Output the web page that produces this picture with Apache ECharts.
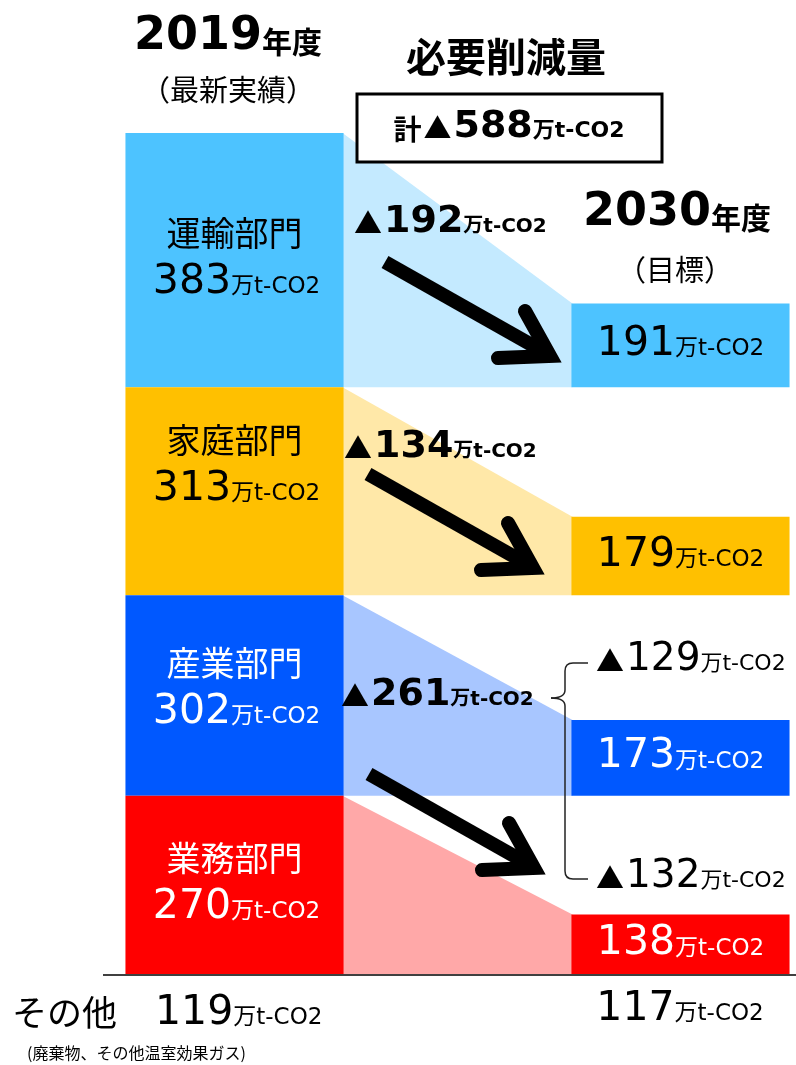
<!DOCTYPE html>
<html>
<head>
<meta charset="utf-8">
<script src="https://cdn.jsdelivr.net/npm/echarts@6/dist/echarts.min.js"></script>
<style>
html, body { margin: 0; padding: 0; background: #fff; }
#main { width: 796px; height: 1065px; }
</style>
</head>
<body>
<div id="main"></div>
<script>
// 部門別排出量（上から順）
var sectors = ['運輸部門', '家庭部門', '産業部門', '業務部門']
var value2019 = [383, 313, 302, 270]
var value2030 = [191, 179, 173, 138]
var cutLabels = [192, 134, 261] // 産業+業務は合算
var cutSub = [129, 132]
var cutTotal = 588
var other2019 = 119
var other2030 = 117
var unit = '万t-CO2'

var colors = ['#4DC3FF', '#FFC000', '#0058FF', '#FF0000']
var lightColors = ['#C4EAFF', '#FFE8A8', '#A8C6FF', '#FFA8A8']
var textColors = ['#000', '#000', '#fff', '#fff']
var labelShift = [0, -24, -5, 0] // 部門名ラベルの上下位置の調整
var SCALE_2030 = 0.66 // 目標側の棒は縮尺を変えて描かれている

var FONT = '"DejaVu Sans", "Noto Sans CJK JP", sans-serif'
var CJK = '"Noto Sans CJK JP", sans-serif'

var total2019 = value2019.reduce(function(a, b) { return a + b }, 0)

function valueRich(color, big, small) {
  return {
    n: { fontFamily: FONT, fontSize: big, fill: color, verticalAlign: 'bottom' },
    u: { fontFamily: FONT, fontSize: small, fill: color, verticalAlign: 'bottom', padding: [0, 0, 4, 0] }
  }
}

function renderSector(params, api) {
  var i = params.dataIndex
  var base = 0
  for (var j = i + 1; j < value2019.length; j++) base += value2019[j]
  var bw = api.size([1, 0])[0] * 0.978
  var p0 = api.coord([0, base])
  var p19 = api.coord([0, base + value2019[i]])
  var p30 = api.coord([2, base + value2030[i] * SCALE_2030])
  var x19l = p0[0] - bw / 2
  var x19r = p0[0] + bw / 2
  var x30l = p30[0] - bw / 2
  var yb = p0[1]
  var mid19 = (p19[1] + yb) / 2 + labelShift[i]
  var mid30 = (p30[1] + yb) / 2
  return {
    type: 'group',
    children: [
      {
        type: 'polygon',
        shape: { points: [[x19r - 1, p19[1]], [x30l + 1, p30[1]], [x30l + 1, yb], [x19r - 1, yb]] },
        style: { fill: lightColors[i] }
      },
      {
        type: 'rect',
        shape: { x: x19l, y: p19[1], width: bw, height: yb - p19[1] },
        style: { fill: colors[i] }
      },
      {
        type: 'rect',
        shape: { x: x30l, y: p30[1], width: bw, height: yb - p30[1] },
        style: { fill: colors[i] }
      },
      {
        type: 'text',
        style: {
          text: sectors[i], x: p0[0], y: mid19 - 27, align: 'center', verticalAlign: 'middle',
          fontFamily: CJK, fontSize: 34, fill: textColors[i]
        }
      },
      {
        type: 'text',
        style: {
          text: '{n|' + value2019[i] + '}{u|' + unit + '}', x: p0[0] + 2, y: mid19 + 22,
          align: 'center', verticalAlign: 'middle', rich: valueRich(textColors[i], 41, 23)
        }
      },
      {
        type: 'text',
        style: {
          text: '{n|' + value2030[i] + '}{u|' + unit + '}', x: p30[0], y: mid30 - 1,
          align: 'center', verticalAlign: 'middle', rich: valueRich(textColors[i], 41, 23)
        }
      }
    ]
  }
}

// 矢印（先端座標を基準にした形）
function arrow(tipX, tipY) {
  return {
    type: 'group', x: tipX, y: tipY, z: 100,
    children: [
      {
        type: 'line', z: 100, shape: { x1: -179, y1: -101, x2: -18, y2: -10 },
        style: { stroke: '#000', lineWidth: 14, lineCap: 'butt' }
      },
      {
        type: 'polyline', z: 100,
        shape: { points: [[-39, -52], [-14, -7], [-66, -5]] },
        style: { stroke: '#000', lineWidth: 14, lineCap: 'round', lineJoin: 'miter', fill: null }
      }
    ]
  }
}

function cutText(x, y, v, bold) {
  var w = bold ? 'bold' : 'normal'
  return {
    type: 'text', z: 100,
    style: {
      text: '{t|▲}{n|' + v + '}{u|' + unit + '}', x: x, y: y, align: 'left', verticalAlign: 'middle',
      rich: {
        t: { fontFamily: CJK, fontSize: 28, fill: '#000', verticalAlign: 'bottom', padding: [0, 2, 4, 0] },
        n: { fontFamily: FONT, fontSize: bold ? 38 : 39, fontWeight: w, fill: '#000', verticalAlign: 'bottom' },
        u: { fontFamily: FONT, fontSize: bold ? 20 : 22, fontWeight: w, fill: '#000', verticalAlign: 'bottom', padding: [0, 0, 4, 0] }
      }
    }
  }
}

var chart = echarts.init(document.getElementById('main'))

var braceStyle = { stroke: '#222', lineWidth: 1.5, fill: null }

chart.setOption({
  animation: false,
  grid: { left: 123, right: 4, top: 133, bottom: 90 },
  xAxis: { type: 'category', data: ['2019', '削減', '2030'], show: false },
  yAxis: { type: 'value', min: 0, max: total2019, show: false },
  series: [{
    type: 'custom',
    renderItem: renderSector,
    data: sectors.map(function(s, i) { return [i] }),
    silent: true
  }],
  graphic: [
    { type: 'line', z: 50, shape: { x1: 103, y1: 975, x2: 796, y2: 975 }, style: { stroke: '#404040', lineWidth: 2 } },
    {
      type: 'text', z: 100,
      style: {
        text: '{a|2019}{b|年度}', x: 228, y: 37, align: 'center', verticalAlign: 'middle',
        rich: {
          a: { fontFamily: FONT, fontSize: 46, fontWeight: 'bold', fill: '#000', verticalAlign: 'bottom' },
          b: { fontFamily: CJK, fontSize: 30, fontWeight: 'bold', fill: '#000', verticalAlign: 'bottom', padding: [0, 0, 3, 0] }
        }
      }
    },
    { type: 'text', z: 100, style: { text: '（最新実績）', x: 228, y: 90, align: 'center', verticalAlign: 'middle', fontFamily: CJK, fontSize: 29, fill: '#000' } },
    { type: 'text', z: 100, style: { text: '必要削減量', x: 506, y: 57, align: 'center', verticalAlign: 'middle', fontFamily: CJK, fontSize: 40, fontWeight: 'bold', fill: '#000' } },
    { type: 'rect', z: 100, shape: { x: 357, y: 94, width: 305, height: 68 }, style: { fill: '#fff', stroke: '#000', lineWidth: 3 } },
    {
      type: 'text', z: 101,
      style: {
        text: '{k|計}{t|▲}{n|' + cutTotal + '}{u|' + unit + '}', x: 509, y: 127, align: 'center', verticalAlign: 'middle',
        rich: {
          k: { fontFamily: CJK, fontSize: 28, fontWeight: 'bold', fill: '#000', verticalAlign: 'bottom', padding: [0, 2, 3, 0] },
          t: { fontFamily: CJK, fontSize: 28, fill: '#000', verticalAlign: 'bottom', padding: [0, 2, 4, 0] },
          n: { fontFamily: FONT, fontSize: 38, fontWeight: 'bold', fill: '#000', verticalAlign: 'bottom' },
          u: { fontFamily: FONT, fontSize: 22, fontWeight: 'bold', fill: '#000', verticalAlign: 'bottom', padding: [0, 0, 4, 0] }
        }
      }
    },
    {
      type: 'text', z: 100,
      style: {
        text: '{a|2030}{b|年度}', x: 677, y: 213, align: 'center', verticalAlign: 'middle',
        rich: {
          a: { fontFamily: FONT, fontSize: 46, fontWeight: 'bold', fill: '#000', verticalAlign: 'bottom' },
          b: { fontFamily: CJK, fontSize: 30, fontWeight: 'bold', fill: '#000', verticalAlign: 'bottom', padding: [0, 0, 3, 0] }
        }
      }
    },
    { type: 'text', z: 100, style: { text: '（目標）', x: 675, y: 270, align: 'center', verticalAlign: 'middle', fontFamily: CJK, fontSize: 29, fill: '#000' } },

    cutText(354, 222, cutLabels[0], true),
    cutText(344, 447, cutLabels[1], true),
    cutText(341, 695, cutLabels[2], true),
    cutText(596, 660, cutSub[0], false),
    cutText(596, 877, cutSub[1], false),

    arrow(564, 363),
    arrow(547, 575),
    arrow(548, 875),

    // 中括弧
    { type: 'line', z: 100, shape: { x1: 588, y1: 663, x2: 573, y2: 663 }, style: braceStyle },
    { type: 'bezierCurve', z: 100, shape: { x1: 573, y1: 663, cpx1: 565, cpy1: 663, x2: 565, y2: 671 }, style: braceStyle },
    { type: 'line', z: 100, shape: { x1: 565, y1: 671, x2: 565, y2: 690 }, style: braceStyle },
    { type: 'bezierCurve', z: 100, shape: { x1: 565, y1: 690, cpx1: 565, cpy1: 698, x2: 551, y2: 698 }, style: braceStyle },
    { type: 'bezierCurve', z: 100, shape: { x1: 551, y1: 698, cpx1: 565, cpy1: 698, x2: 565, y2: 706 }, style: braceStyle },
    { type: 'line', z: 100, shape: { x1: 565, y1: 706, x2: 565, y2: 871 }, style: braceStyle },
    { type: 'bezierCurve', z: 100, shape: { x1: 565, y1: 871, cpx1: 565, cpy1: 879, x2: 573, y2: 879 }, style: braceStyle },
    { type: 'line', z: 100, shape: { x1: 573, y1: 879, x2: 588, y2: 879 }, style: braceStyle },

    { type: 'text', z: 100, style: { text: 'その他', x: 12, y: 1013, align: 'left', verticalAlign: 'middle', fontFamily: CJK, fontSize: 35, fill: '#000' } },
    {
      type: 'text', z: 100,
      style: { text: '{n|' + other2019 + '}{u|' + unit + '}', x: 155, y: 1013, align: 'left', verticalAlign: 'middle', rich: valueRich('#000', 41, 23) }
    },
    {
      type: 'text', z: 100,
      style: { text: '{n|' + other2030 + '}{u|' + unit + '}', x: 680, y: 1009, align: 'center', verticalAlign: 'middle', rich: valueRich('#000', 41, 23) }
    },
    { type: 'text', z: 100, style: { text: '(廃棄物、その他温室効果ガス)', x: 27, y: 1053, align: 'left', verticalAlign: 'middle', fontFamily: CJK, fontSize: 16, fill: '#000' } }
  ]
})
</script>
</body>
</html>
